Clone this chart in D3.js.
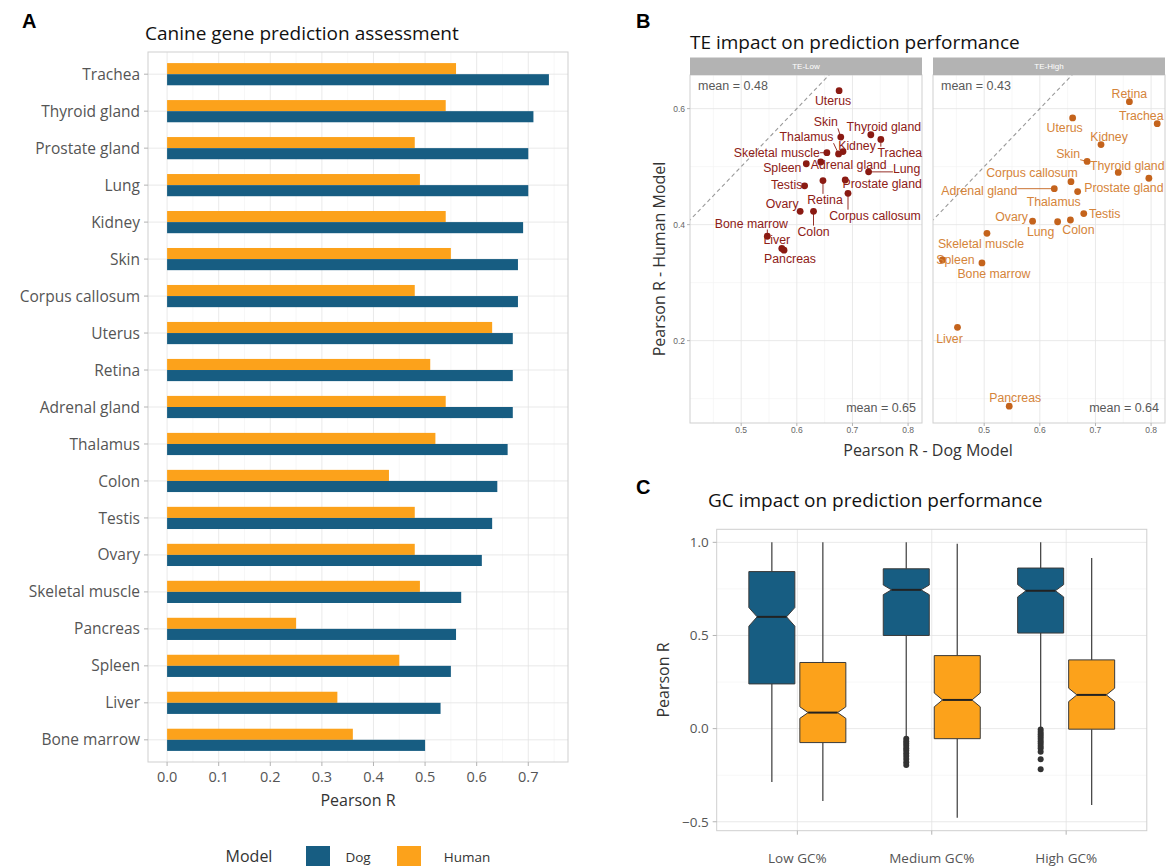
<!DOCTYPE html>
<html><head><meta charset="utf-8">
<script src="https://cdn.jsdelivr.net/npm/d3@7"></script>
<style>
body{margin:0;background:#fff}
svg{display:block}
.ui{font-family:"Open Sans",sans-serif}
.ar{font-family:"Liberation Sans",Arial,sans-serif}
</style>
</head><body>
<svg id="c" width="1168" height="866"></svg>
<script>
// ---------------- DATA ----------------
// Panel A
const tissues = ["Trachea","Thyroid gland","Prostate gland","Lung","Kidney","Skin","Corpus callosum","Uterus","Retina","Adrenal gland","Thalamus","Colon","Testis","Ovary","Skeletal muscle","Pancreas","Spleen","Liver","Bone marrow"];
const dogR   = [0.74,0.71,0.70,0.70,0.69,0.68,0.68,0.67,0.67,0.67,0.66,0.64,0.63,0.61,0.57,0.56,0.55,0.53,0.50];
const humanR = [0.56,0.54,0.48,0.49,0.54,0.55,0.48,0.63,0.51,0.54,0.52,0.43,0.48,0.48,0.49,0.25,0.45,0.33,0.36];
const xTicksA = [0,0.1,0.2,0.3,0.4,0.5,0.6,0.7];
const models = ["Dog","Human"];

// Panel B
const facets = ["TE-Low","TE-High"];
const teLowNames = ["Uterus","Skin","Thyroid gland","Trachea","Kidney","Thalamus","Skeletal muscle","Adrenal gland","Spleen","Lung","Testis","Retina","Prostate gland","Corpus callosum","Ovary","Colon","Bone marrow","Liver","Pancreas"];
const teLowDog   = [0.676,0.679,0.733,0.751,0.683,0.675,0.654,0.643,0.617,0.729,0.614,0.647,0.687,0.692,0.606,0.630,0.547,0.573,0.577];
const teLowHuman = [0.631,0.551,0.555,0.547,0.526,0.522,0.524,0.508,0.505,0.491,0.467,0.476,0.477,0.454,0.423,0.423,0.380,0.359,0.356];
const teHighNames = ["Retina","Trachea","Uterus","Kidney","Skin","Thyroid gland","Prostate gland","Corpus callosum","Adrenal gland","Thalamus","Testis","Ovary","Lung","Colon","Skeletal muscle","Spleen","Bone marrow","Liver","Pancreas"];
const teHighDog   = [0.761,0.811,0.659,0.710,0.685,0.741,0.796,0.656,0.626,0.668,0.679,0.587,0.632,0.655,0.505,0.425,0.496,0.452,0.545];
const teHighHuman = [0.612,0.574,0.584,0.538,0.509,0.490,0.480,0.474,0.462,0.457,0.419,0.406,0.405,0.408,0.385,0.339,0.334,0.223,0.087];
const meanHuman = [0.48,0.43];
const meanDog   = [0.65,0.64];
const xTicksB = [0.5,0.6,0.7,0.8];
const yTicksB = [0.2,0.4,0.6];

// Panel C
const gcGroups = ["Low GC%","Medium GC%","High GC%"];
const dogWhiskLo = [-0.287,-0.045,0.002];
const dogQ1      = [0.240,0.500,0.513];
const dogMed     = [0.600,0.745,0.740];
const dogQ3      = [0.843,0.858,0.862];
const dogWhiskHi = [1.000,1.000,1.000];
const dogNotch   = [0.050,0.026,0.033];
const humWhiskLo = [-0.389,-0.478,-0.410];
const humQ1      = [-0.075,-0.054,-0.003];
const humMed     = [0.086,0.154,0.181];
const humQ3      = [0.355,0.392,0.369];
const humWhiskHi = [1.000,0.993,0.916];
const humNotch   = [0.031,0.037,0.036];
const dogOutMedium = [-0.055,-0.068,-0.08,-0.092,-0.105,-0.118,-0.132,-0.147,-0.163,-0.18,-0.195];
const dogOutHigh   = [-0.005,-0.018,-0.03,-0.042,-0.055,-0.068,-0.08,-0.093,-0.106,-0.124,-0.165,-0.218];
const yTicksC = [-0.5,0,0.5,1.0];

// ---------------- LAYOUT / STYLE ----------------
const BLUE = "#175d82", ORANGE = "#fca21b";
const GRID = "#e3e3e3", GRIDMIN = "#f1f1f1", BORDER = "#cfcfcf", AXT = "#555555";
const TITLE_SIZE = 19;
// label nudges (pixels) for ggrepel-like labels
const nudgeLow  = [[-6,10],[-15,-15],[13,-8],[19,13],[14,-6],[-32,-17],[-50,0],[28,3],[-24,4],[38,-3],[-18,-1],[2,19],[37,4],[27,22],[-18,-8],[0,20],[-16,-13],[-5,-9],[6,9]];
const nudgeHigh = [[0,-8],[-16,-8],[-8,10],[8,-8],[-19,-8],[9,-7],[-25,9],[-39,-9],[-75,2],[-24,10],[21,0],[-21,-4],[-17,10],[8,10],[-6,10],[13,0],[12,11],[-8,11],[6,-8]];

const svg = d3.select("#c");

// ================= PANEL A =================
(function(){
  const L=148, R=568, T=52, B=762;
  const x = d3.scaleLinear().domain([-0.037,0.777]).range([L,R]);
  const y = d3.scalePoint().domain(tissues).range([T,B]).padding(0.6);
  const step = y.step();
  const g = svg.append("g");
  d3.range(0.05,0.78,0.1).forEach(v=>{
    g.append("line").attr("x1",x(v)).attr("x2",x(v)).attr("y1",T).attr("y2",B).attr("stroke",GRIDMIN).attr("stroke-width",0.6);
  });
  xTicksA.forEach(v=>{
    g.append("line").attr("x1",x(v)).attr("x2",x(v)).attr("y1",T).attr("y2",B).attr("stroke",GRID).attr("stroke-width",0.8);
  });
  tissues.forEach(t=>{
    g.append("line").attr("x1",L).attr("x2",R).attr("y1",y(t)).attr("y2",y(t)).attr("stroke",GRID).attr("stroke-width",0.8);
  });
  const bh = step*0.3;
  g.selectAll(".hb").data(tissues).join("rect")
    .attr("x",x(0)).attr("y",t=>y(t)-bh).attr("height",bh)
    .attr("width",(t,i)=>x(humanR[i])-x(0)).attr("fill",ORANGE);
  g.selectAll(".db").data(tissues).join("rect")
    .attr("x",x(0)).attr("y",t=>y(t)).attr("height",bh)
    .attr("width",(t,i)=>x(dogR[i])-x(0)).attr("fill",BLUE);
  g.append("rect").attr("x",L).attr("y",T).attr("width",R-L).attr("height",B-T).attr("fill","none").attr("stroke",BORDER).attr("stroke-width",1);
  tissues.forEach(t=>{
    g.append("line").attr("x1",L-4).attr("x2",L).attr("y1",y(t)).attr("y2",y(t)).attr("stroke","#b3b3b3");
    g.append("text").attr("class","ui").attr("x",L-8).attr("y",y(t)).attr("dy","0.36em").attr("text-anchor","end")
      .attr("font-size",15.5).attr("fill",AXT).text(t);
  });
  xTicksA.forEach(v=>{
    g.append("line").attr("x1",x(v)).attr("x2",x(v)).attr("y1",B).attr("y2",B+4).attr("stroke","#b3b3b3");
    g.append("text").attr("class","ui").attr("x",x(v)).attr("y",B+20).attr("text-anchor","middle")
      .attr("font-size",14.5).attr("fill",AXT).text(d3.format(".1f")(v));
  });
  g.append("text").attr("class","ui").attr("x",(L+R)/2).attr("y",806).attr("text-anchor","middle").attr("font-size",16).attr("fill","#333").text("Pearson R");
  g.append("text").attr("class","ui").attr("x",145).attr("y",40).attr("font-size",TITLE_SIZE).attr("fill","#111").text("Canine gene prediction assessment");
  svg.append("text").attr("class","ar").attr("x",22).attr("y",28).attr("font-size",20).attr("font-weight","bold").attr("fill","#000").text("A");
  g.append("text").attr("class","ui").attr("x",249).attr("y",862).attr("text-anchor","middle").attr("font-size",16).attr("fill","#333").text("Model");
  const lx=[306,397], tx=[358,467];
  models.forEach((m,i)=>{
    g.append("rect").attr("x",lx[i]).attr("y",846).attr("width",24).attr("height",24).attr("fill",i?ORANGE:BLUE);
    g.append("text").attr("class","ui").attr("x",tx[i]).attr("y",862).attr("text-anchor","middle").attr("font-size",13.5).attr("fill","#333").text(m);
  });
})();

// ================= PANEL B =================
(function(){
  const T=75, B=423, stripT=57.5;
  const fL=[690,933], fW=232;
  const y = d3.scaleLinear().domain([0.058,0.658]).range([B,T]);
  svg.append("text").attr("class","ar").attr("x",636).attr("y",28).attr("font-size",20).attr("font-weight","bold").text("B");
  svg.append("text").attr("class","ui").attr("x",690).attr("y",49).attr("font-size",TITLE_SIZE).attr("fill","#111").text("TE impact on prediction performance");
  const sets = [
    {names:teLowNames,dog:teLowDog,hum:teLowHuman,nudge:nudgeLow,pc:"#8a1a12",tc:"#8e2016"},
    {names:teHighNames,dog:teHighDog,hum:teHighHuman,nudge:nudgeHigh,pc:"#c4631c",tc:"#d5843a"}
  ];
  facets.forEach((f,fi)=>{
    const L=fL[fi], R=L+fW;
    const x = d3.scaleLinear().domain([0.408,0.825]).range([L,R]);
    const g = svg.append("g");
    const clipId = "clipB"+fi;
    g.append("clipPath").attr("id",clipId).append("rect").attr("x",L).attr("y",T).attr("width",fW).attr("height",B-T);
    [0.45,0.55,0.65,0.75].forEach(v=>g.append("line").attr("x1",x(v)).attr("x2",x(v)).attr("y1",T).attr("y2",B).attr("stroke",GRIDMIN).attr("stroke-width",0.6));
    [0.1,0.3,0.5].forEach(v=>g.append("line").attr("x1",L).attr("x2",R).attr("y1",y(v)).attr("y2",y(v)).attr("stroke",GRIDMIN).attr("stroke-width",0.6));
    xTicksB.forEach(v=>g.append("line").attr("x1",x(v)).attr("x2",x(v)).attr("y1",T).attr("y2",B).attr("stroke",GRID).attr("stroke-width",0.8));
    yTicksB.forEach(v=>g.append("line").attr("x1",L).attr("x2",R).attr("y1",y(v)).attr("y2",y(v)).attr("stroke",GRID).attr("stroke-width",0.8));
    g.append("line").attr("clip-path",`url(#${clipId})`).attr("x1",x(0.3)).attr("y1",y(0.3)).attr("x2",x(0.7)).attr("y2",y(0.7))
      .attr("stroke","#9a9a9a").attr("stroke-width",1.1).attr("stroke-dasharray","4,3");
    g.append("rect").attr("x",L).attr("y",T).attr("width",fW).attr("height",B-T).attr("fill","none").attr("stroke",BORDER);
    g.append("rect").attr("x",L).attr("y",stripT).attr("width",fW).attr("height",T-stripT).attr("fill","#b3b3b3");
    g.append("text").attr("class","ar").attr("x",L+fW/2).attr("y",(stripT+T)/2).attr("dy","0.35em").attr("text-anchor","middle").attr("font-size",8).attr("fill","#fff").text(f);
    xTicksB.forEach(v=>{
      g.append("line").attr("x1",x(v)).attr("x2",x(v)).attr("y1",B).attr("y2",B+3).attr("stroke","#b3b3b3");
      g.append("text").attr("class","ar").attr("x",x(v)).attr("y",B+10).attr("text-anchor","middle").attr("font-size",8.5).attr("fill","#666").text(d3.format(".1f")(v));
    });
    if(fi===0){
      yTicksB.forEach(v=>{
        g.append("line").attr("x1",L-3).attr("x2",L).attr("y1",y(v)).attr("y2",y(v)).attr("stroke","#b3b3b3");
        g.append("text").attr("class","ar").attr("x",L-5).attr("y",y(v)).attr("dy","0.35em").attr("text-anchor","end").attr("font-size",8.5).attr("fill","#666").text(d3.format(".1f")(v));
      });
    }
    g.append("text").attr("class","ar").attr("x",L+8).attr("y",T+11).attr("dy","0.35em").attr("font-size",12.5).attr("fill","#595959").text("mean = "+meanHuman[fi].toFixed(2));
    g.append("text").attr("class","ar").attr("x",R-6).attr("y",B-15).attr("dy","0.35em").attr("text-anchor","end").attr("font-size",12.5).attr("fill","#595959").text("mean = "+meanDog[fi].toFixed(2));
    const s = sets[fi];
    const segG = g.append("g"), ptG = g.append("g"), lbG = g.append("g");
    s.names.forEach((n,i)=>{
      const px=x(s.dog[i]), py=y(s.hum[i]);
      ptG.append("circle").attr("cx",px).attr("cy",py).attr("r",3.4).attr("fill",s.pc);
      const lx=px+s.nudge[i][0], ly=py+s.nudge[i][1];
      const t = lbG.append("text").attr("class","ar").attr("x",lx).attr("y",ly).attr("dy","0.35em").attr("text-anchor","middle")
        .attr("font-size",12.3).attr("fill",s.tc).text(n);
      const bb = t.node().getBBox();
      const nx = Math.max(bb.x, Math.min(px, bb.x+bb.width));
      const ny = Math.max(bb.y+1, Math.min(py, bb.y+bb.height-1));
      const d = Math.hypot(nx-px, ny-py);
      if(d>6){
        segG.append("line").attr("x1",px).attr("y1",py).attr("x2",nx).attr("y2",ny).attr("stroke",s.pc).attr("stroke-width",0.9);
      }
    });
  });
  svg.append("text").attr("class","ui").attr("x",928).attr("y",456).attr("text-anchor","middle").attr("font-size",16).attr("fill","#333").text("Pearson R - Dog Model");
  svg.append("text").attr("class","ui").attr("transform",`translate(665,${(T+B)/2+10}) rotate(-90)`).attr("text-anchor","middle").attr("font-size",16).attr("fill","#333").text("Pearson R - Human Model");
})();

// ================= PANEL C =================
(function(){
  const L=716.7, R=1146.8, T=529.3, B=830.7;
  const y = d3.scaleLinear().domain([-0.548,1.07]).range([B,T]);
  const x = d3.scalePoint().domain(gcGroups).range([L,R]).padding(0.6);
  const g = svg.append("g");
  svg.append("text").attr("class","ar").attr("x",636).attr("y",494).attr("font-size",20).attr("font-weight","bold").text("C");
  g.append("text").attr("class","ui").attr("x",708).attr("y",507).attr("font-size",TITLE_SIZE).attr("fill","#111").text("GC impact on prediction performance");
  [-0.25,0.25,0.75].forEach(v=>g.append("line").attr("x1",L).attr("x2",R).attr("y1",y(v)).attr("y2",y(v)).attr("stroke",GRIDMIN).attr("stroke-width",0.6));
  yTicksC.forEach(v=>g.append("line").attr("x1",L).attr("x2",R).attr("y1",y(v)).attr("y2",y(v)).attr("stroke",GRID).attr("stroke-width",0.8));
  gcGroups.forEach(c=>g.append("line").attr("x1",x(c)).attr("x2",x(c)).attr("y1",T).attr("y2",B).attr("stroke",GRID).attr("stroke-width",0.8));
  const bw = 46, off = 25.5, inset = 0.18*bw;
  function box(cx, lo, q1, med, q3, hi, notch, fill){
    g.append("line").attr("x1",cx).attr("x2",cx).attr("y1",y(hi)).attr("y2",y(q3)).attr("stroke","#4a4a4a").attr("stroke-width",1.3);
    g.append("line").attr("x1",cx).attr("x2",cx).attr("y1",y(q1)).attr("y2",y(lo)).attr("stroke","#4a4a4a").attr("stroke-width",1.3);
    const x0=cx-bw/2, x1=cx+bw/2;
    const pts=[[x0,y(q3)],[x1,y(q3)],[x1,y(med+notch)],[x1-inset,y(med)],[x1,y(med-notch)],[x1,y(q1)],[x0,y(q1)],[x0,y(med-notch)],[x0+inset,y(med)],[x0,y(med+notch)]];
    g.append("path").attr("d","M"+pts.map(p=>p.join(",")).join("L")+"Z").attr("fill",fill).attr("stroke","#3a3a3a").attr("stroke-width",1);
    g.append("line").attr("x1",x0+inset).attr("x2",x1-inset).attr("y1",y(med)).attr("y2",y(med)).attr("stroke","#222").attr("stroke-width",2);
  }
  gcGroups.forEach((c,i)=>{
    box(x(c)-off, dogWhiskLo[i], dogQ1[i], dogMed[i], dogQ3[i], dogWhiskHi[i], dogNotch[i], BLUE);
    box(x(c)+off, humWhiskLo[i], humQ1[i], humMed[i], humQ3[i], humWhiskHi[i], humNotch[i], ORANGE);
  });
  dogOutMedium.forEach(v=>g.append("circle").attr("cx",x("Medium GC%")-off).attr("cy",y(v)).attr("r",3).attr("fill","#333"));
  dogOutHigh.forEach(v=>g.append("circle").attr("cx",x("High GC%")-off).attr("cy",y(v)).attr("r",3).attr("fill","#333"));
  g.append("rect").attr("x",L).attr("y",T).attr("width",R-L).attr("height",B-T).attr("fill","none").attr("stroke",BORDER);
  yTicksC.forEach(v=>{
    g.append("line").attr("x1",L-4).attr("x2",L).attr("y1",y(v)).attr("y2",y(v)).attr("stroke","#b3b3b3");
    g.append("text").attr("class","ui").attr("x",L-8).attr("y",y(v)).attr("dy","0.36em").attr("text-anchor","end").attr("font-size",13.5).attr("fill",AXT).text(d3.format(".1f")(v));
  });
  gcGroups.forEach(c=>{
    g.append("line").attr("x1",x(c)).attr("x2",x(c)).attr("y1",B).attr("y2",B+4).attr("stroke","#b3b3b3");
    g.append("text").attr("class","ui").attr("x",x(c)).attr("y",B+32).attr("text-anchor","middle").attr("font-size",13.5).attr("fill",AXT).text(c);
  });
  g.append("text").attr("class","ui").attr("transform",`translate(669,${(T+B)/2}) rotate(-90)`).attr("text-anchor","middle").attr("font-size",16).attr("fill","#333").text("Pearson R");
})();
</script>
</body></html>
